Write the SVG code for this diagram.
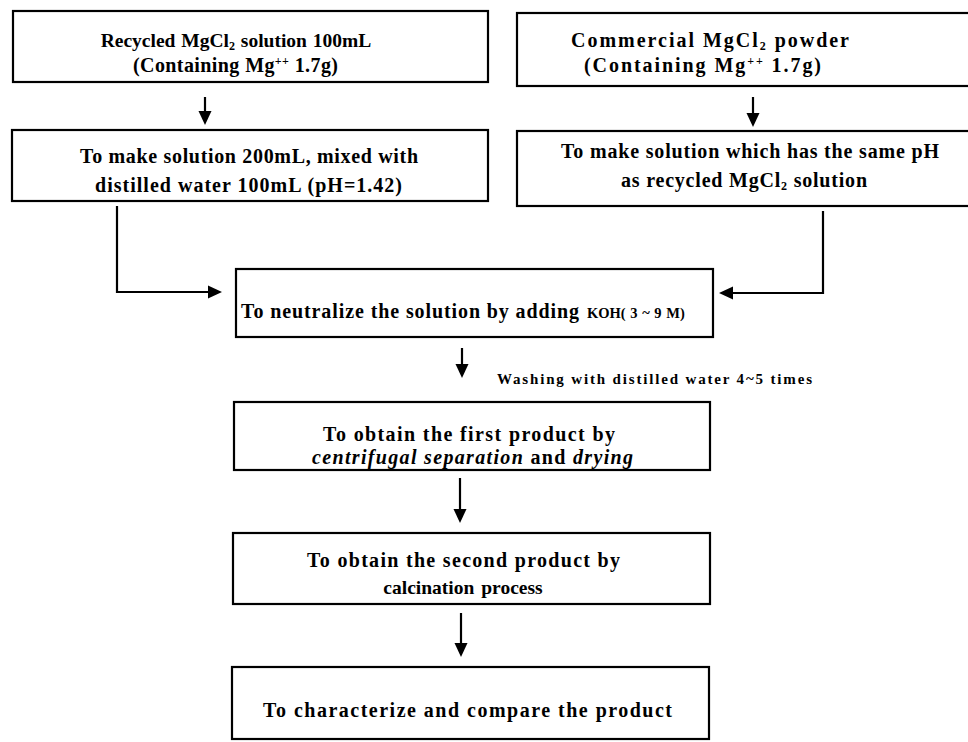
<svg xmlns="http://www.w3.org/2000/svg" width="968" height="742" viewBox="0 0 968 742">
<style>
.box{fill:#fff;stroke:#000;stroke-width:2.2}
.t{font-family:"Liberation Serif","Times New Roman",serif;font-weight:bold;font-size:20px;fill:#000}
.m{text-anchor:middle}
.w{font-family:"Liberation Serif","Times New Roman",serif;font-weight:bold;font-size:15px;fill:#000}
.c{fill:none;stroke:#000;stroke-width:2.2}
.sub{font-size:12px}
</style>
<defs>
<marker id="ah" markerWidth="14" markerHeight="14" refX="10" refY="7" orient="auto" markerUnits="userSpaceOnUse" viewBox="0 0 14 14">
<path d="M0,0.5 L14,7 L0,13.5 Z" fill="#000"/>
</marker>
</defs>
<rect width="968" height="742" fill="#fff"/>
<g id="n1">
<rect class="box" x="13" y="11" width="475" height="71"/>
<text class="t m" x="236" y="47" style="font-size:19.5px" word-spacing="1">Recycled  MgCl<tspan class="sub" dy="3">2</tspan><tspan dy="-3"> solution  100mL</tspan></text>
<text class="t" x="133" y="72" textLength="205">(Containing  Mg<tspan class="sub" dy="-7">++</tspan><tspan dy="7"> 1.7g)</tspan></text>
</g>
<g id="n2">
<rect class="box" x="517" y="13" width="470" height="73"/>
<text class="t" x="571" y="47" textLength="278">Commercial  MgCl<tspan class="sub" dy="3">2</tspan><tspan dy="-3"> powder</tspan></text>
<text class="t" x="584" y="72" textLength="237">(Containing  Mg<tspan class="sub" dy="-7">++</tspan><tspan dy="7"> 1.7g)</tspan></text>
</g>
<g id="n3">
<rect class="box" x="12" y="130" width="476" height="71"/>
<text class="t" x="80" y="163" textLength="338">To make solution 200mL, mixed with</text>
<text class="t" x="95" y="192" textLength="307">distilled  water  100mL (pH=1.42)</text>
</g>
<g id="n4">
<rect class="box" x="517" y="131" width="470" height="75"/>
<text class="t" x="561" y="158" textLength="378">To make solution which has the same pH</text>
<text class="t" x="621" y="187" textLength="246">as  recycled MgCl<tspan class="sub" dy="3">2</tspan><tspan dy="-3"> solution</tspan></text>
</g>
<g id="n5">
<rect class="box" x="236" y="269" width="477" height="68"/>
<text class="t" x="241" y="318" textLength="338">To  neutralize  the solution by adding</text>
<text class="t" x="587" y="318" style="font-size:14.5px" word-spacing="1">KOH( 3 ~ 9 M)</text>
</g>
<g id="n6">
<rect class="box" x="234" y="402" width="476" height="68"/>
<text class="t" x="323" y="441" textLength="292">To obtain the first product by</text>
<text class="t" x="312" y="464" textLength="321"><tspan font-style="italic">centrifugal separation</tspan> and <tspan font-style="italic">drying</tspan></text>
</g>
<g id="n7">
<rect class="box" x="233" y="533" width="477" height="71"/>
<text class="t" x="307" y="567" textLength="313">To obtain the second product by</text>
<text class="t m" x="463" y="594" style="font-size:19.5px" word-spacing="2">calcination process</text>
</g>
<g id="n8">
<rect class="box" x="232" y="667" width="477" height="72"/>
<text class="t" x="263" y="717" textLength="409">To characterize and compare the product</text>
</g>
<text class="w" x="497" y="384" textLength="315">Washing with distilled water 4~5 times</text>
<g id="connectors">
<path class="c" d="M205,97 V121" marker-end="url(#ah)"/>
<path class="c" d="M753,97 V123" marker-end="url(#ah)"/>
<path class="c" d="M117,206 V292 H218" marker-end="url(#ah)"/>
<path class="c" d="M823,211 V293 H723" marker-end="url(#ah)"/>
<path class="c" d="M462,348 V374" marker-end="url(#ah)"/>
<path class="c" d="M460,478 V519" marker-end="url(#ah)"/>
<path class="c" d="M461,613 V653" marker-end="url(#ah)"/>
</g>
</svg>
